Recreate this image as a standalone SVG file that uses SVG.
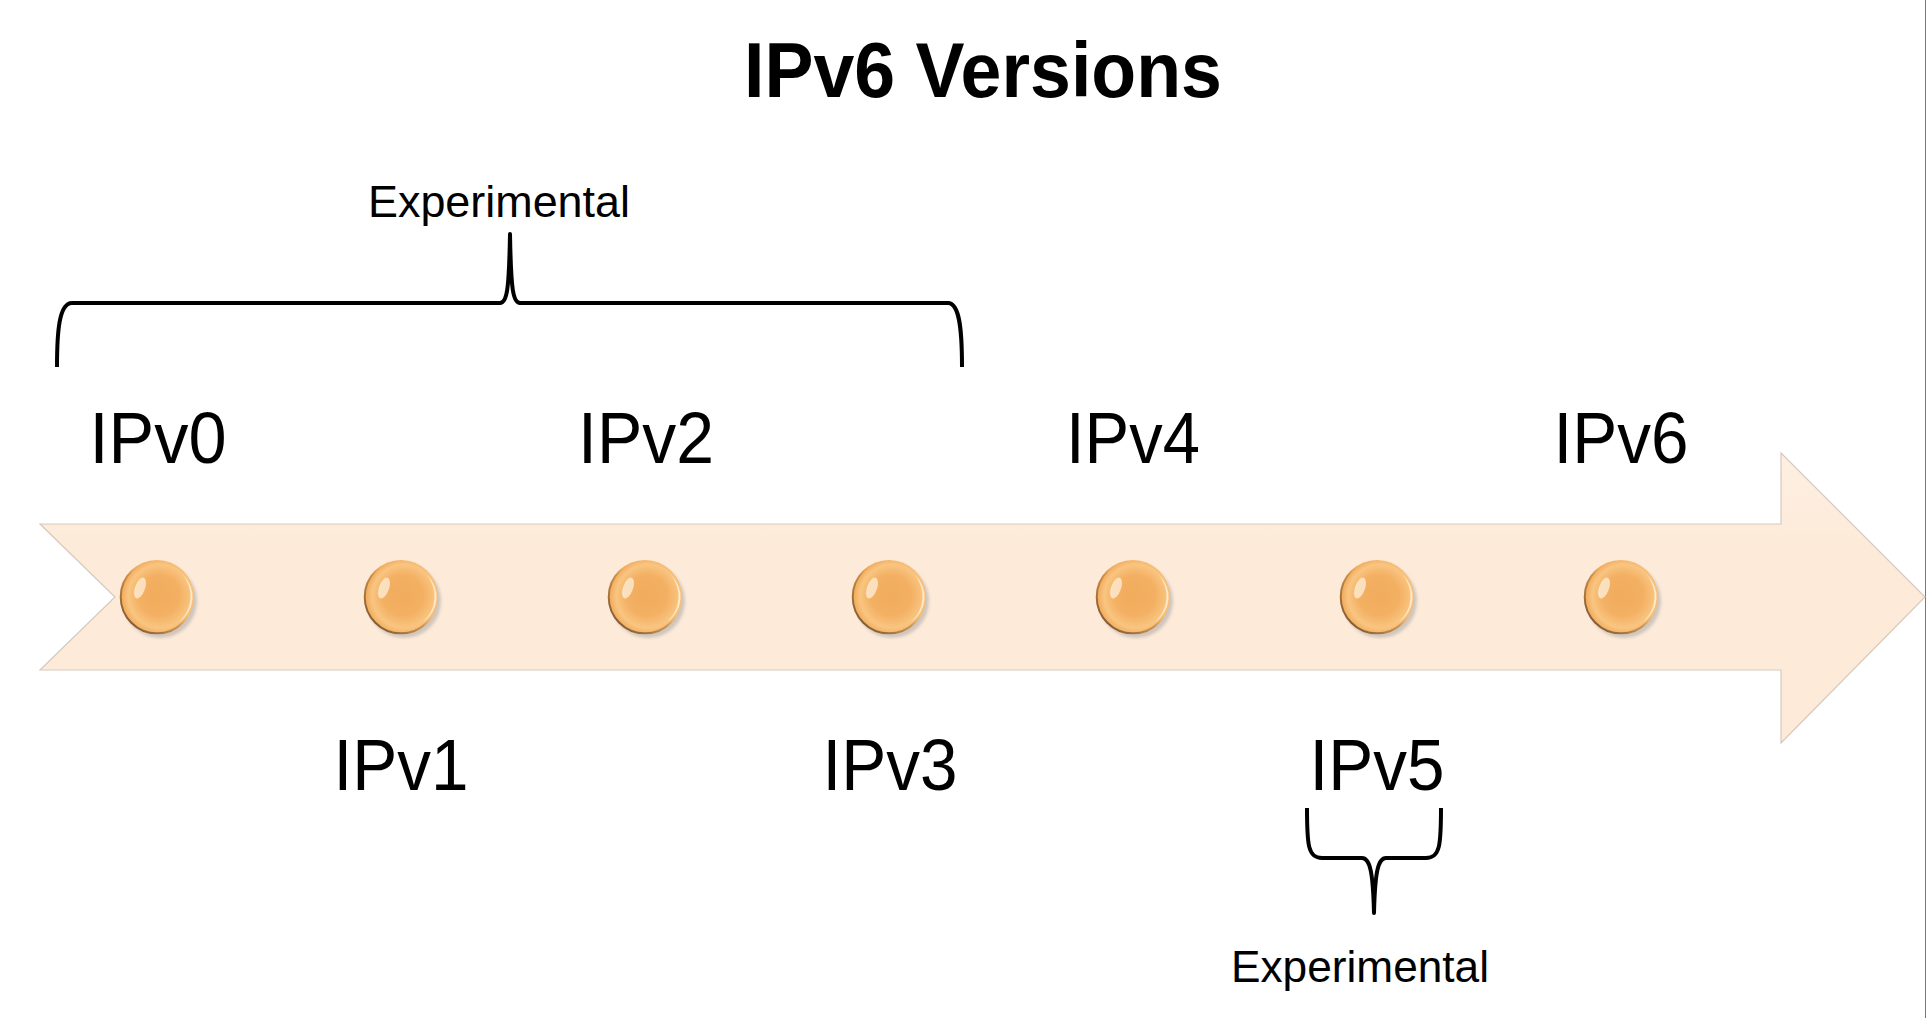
<svg xmlns="http://www.w3.org/2000/svg" xmlns:xlink="http://www.w3.org/1999/xlink" width="1926" height="1018" viewBox="0 0 1926 1018">
<style>
.lbl{font-family:"Liberation Sans",Arial,sans-serif;font-size:73px;fill:#000;text-anchor:middle}
.title{font-family:"Liberation Sans",Arial,sans-serif;font-size:77px;font-weight:bold;fill:#000;text-anchor:middle}
.note{font-family:"Liberation Sans",Arial,sans-serif;font-size:44px;fill:#000;text-anchor:middle}
.brace{fill:none;stroke:#000;stroke-width:4;stroke-linejoin:round}
</style>
<defs>
<linearGradient id="body" x1="0" y1="0" x2="0" y2="1">
<stop offset="0" stop-color="#FEEFE2"/>
<stop offset="0.3" stop-color="#FDEBDA"/>
<stop offset="1" stop-color="#FDEAD8"/>
</linearGradient>
<radialGradient id="ball" cx="0.55" cy="0.5" r="0.55" fx="0.5" fy="0.45">
<stop offset="0" stop-color="#F1AC5C"/>
<stop offset="0.5" stop-color="#F3B063"/>
<stop offset="0.78" stop-color="#F9C581"/>
<stop offset="1" stop-color="#EFA553"/>
</radialGradient>
<linearGradient id="rim" x1="0" y1="1" x2="1" y2="0">
<stop offset="0" stop-color="#5E4128"/>
<stop offset="0.45" stop-color="#B07838" stop-opacity="0.6"/>
<stop offset="0.6" stop-color="#F0A850" stop-opacity="0"/>
</linearGradient>
<filter id="blur" x="-30%" y="-30%" width="160%" height="160%"><feGaussianBlur stdDeviation="1.5"/></filter>
<g id="bead">
<circle cx="3" cy="4" r="37" fill="#C9C0B8" opacity="0.85" filter="url(#blur)"/>
<circle cx="0" cy="0" r="37" fill="url(#ball)"/>
<path d="M 26 -22 A 34 34 0 0 1 22 25 A 30 30 0 0 0 26 -22 Z" fill="#FFF1D8" opacity="0.85"/>
<ellipse cx="-17" cy="-9" rx="5" ry="11" transform="rotate(20 -17 -9)" fill="#FFF4E2" opacity="0.7"/>
<circle cx="0" cy="0" r="36.3" fill="none" stroke="url(#rim)" stroke-width="2"/>
</g>
</defs>
<rect width="1926" height="1018" fill="#FFFFFF"/>
<line x1="1925.5" y1="0" x2="1925.5" y2="1018" stroke="#6A7B9C" stroke-width="1"/>
<g id="arrow">
<polygon points="40,524 1781,524 1781,453 1925,597 1781,743 1781,670 40,670 115,597" fill="url(#body)" stroke="#D6C9BD" stroke-width="1.2"/>
</g>
<g id="title">
<text class="title" x="983" y="97" textLength="478" lengthAdjust="spacingAndGlyphs">IPv6 Versions</text>
</g>
<g id="ipv0"><use xlink:href="#bead" x="157" y="597"/><text class="lbl" x="158" y="463" textLength="137" lengthAdjust="spacingAndGlyphs">IPv0</text></g>
<g id="ipv1"><use xlink:href="#bead" x="401" y="597"/><text class="lbl" x="401" y="790" textLength="135" lengthAdjust="spacingAndGlyphs">IPv1</text></g>
<g id="ipv2"><use xlink:href="#bead" x="645" y="597"/><text class="lbl" x="646" y="463" textLength="136" lengthAdjust="spacingAndGlyphs">IPv2</text></g>
<g id="ipv3"><use xlink:href="#bead" x="889" y="597"/><text class="lbl" x="890" y="790" textLength="135" lengthAdjust="spacingAndGlyphs">IPv3</text></g>
<g id="ipv4"><use xlink:href="#bead" x="1133" y="597"/><text class="lbl" x="1133" y="463" textLength="134" lengthAdjust="spacingAndGlyphs">IPv4</text></g>
<g id="ipv5"><use xlink:href="#bead" x="1377" y="597"/><text class="lbl" x="1377" y="790" textLength="135" lengthAdjust="spacingAndGlyphs">IPv5</text></g>
<g id="ipv6"><use xlink:href="#bead" x="1621" y="597"/><text class="lbl" x="1621" y="463" textLength="135" lengthAdjust="spacingAndGlyphs">IPv6</text></g>
<g id="note-top"><text class="note" x="499" y="217" textLength="262" lengthAdjust="spacingAndGlyphs">Experimental</text></g>
<g id="note-bottom"><text class="note" x="1360" y="982" textLength="258" lengthAdjust="spacingAndGlyphs">Experimental</text></g>
<g id="connectors">
<path class="brace" d="M 57 367 C 57 332 59 303 72 303 L 500 303 C 507 303 509 290 510 234 C 511 290 513 303 520 303 L 948 303 C 960 303 962 332 962 367"/>
<path class="brace" d="M 1307 808 C 1307 845 1308 858 1322 858 L 1362 858 C 1370 858 1373 872 1374 913 C 1375 872 1378 858 1386 858 L 1426 858 C 1440 858 1441 845 1441 808"/>
</g>
</svg>
